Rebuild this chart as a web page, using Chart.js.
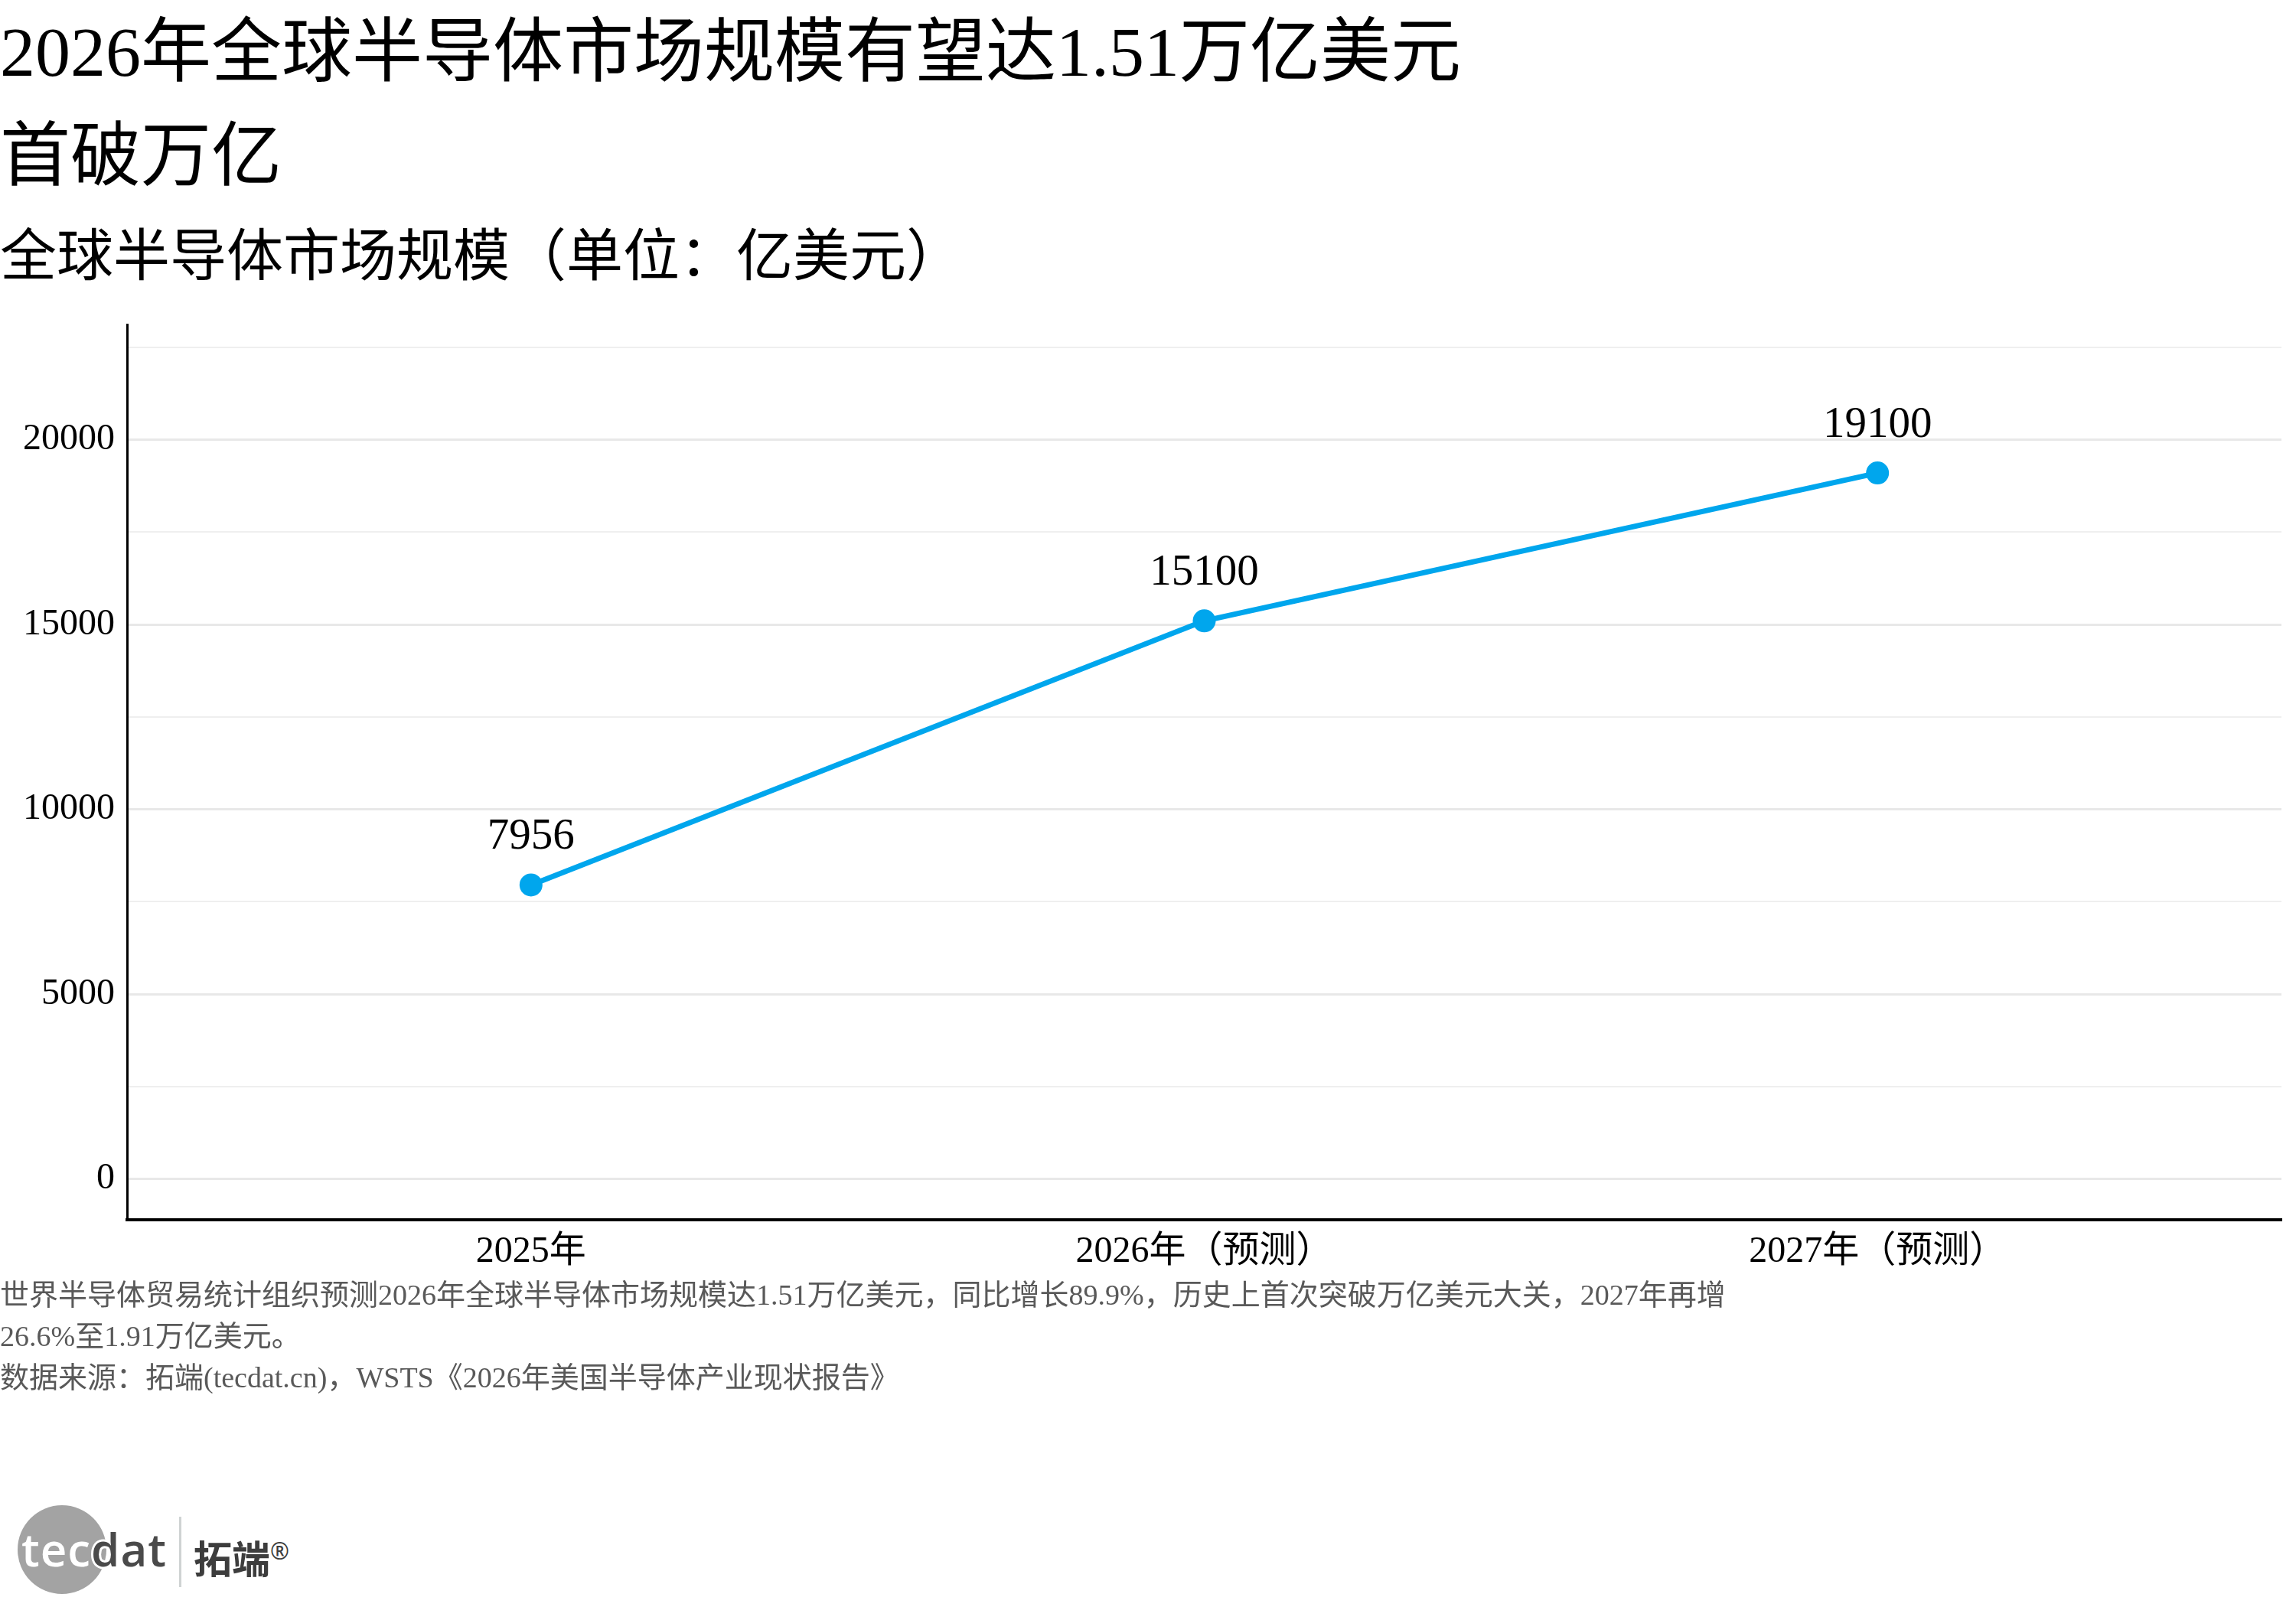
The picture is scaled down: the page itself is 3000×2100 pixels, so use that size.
<!DOCTYPE html>
<html lang="zh-CN">
<head>
<meta charset="utf-8">
<title>全球半导体市场规模</title>
<script src="https://cdn.jsdelivr.net/npm/chart.js@4.4.1/dist/chart.umd.min.js"></script>
<style>
  html, body {
    margin: 0;
    padding: 0;
    background: #fff;
  }
  body {
    position: relative;
    width: 3000px;
    height: 2100px;
    overflow: hidden;
    font-family: "Liberation Serif", "Noto Sans CJK SC", serif;
    color: #000;
  }
  #title {
    position: absolute;
    left: 0;
    top: 0;
    font-size: 92px;
    line-height: 136px;
    white-space: nowrap;
  }
  #subtitle {
    position: absolute;
    left: 0;
    top: 285px;
    font-size: 74px;
    line-height: 100px;
    white-space: nowrap;
  }
  #chart-box {
    position: absolute;
    left: 0;
    top: 380px;
    width: 3000px;
    height: 1320px;
  }
  #caption {
    position: absolute;
    left: 0;
    top: 1665px;
    font-size: 38px;
    line-height: 54px;
    color: #595959;
    white-space: nowrap;
  }
  #logo .circle {
    position: absolute;
    left: 23px;
    top: 1967px;
    width: 116px;
    height: 116px;
    border-radius: 50%;
    background: #a3a3a3;
  }
  #logo .word {
    position: absolute;
    left: 28px;
    top: 1984px;
    font-family: "Open Sans", sans-serif;
    font-weight: 600;
    font-size: 60px;
    line-height: 80px;
    letter-spacing: 1px;
    white-space: nowrap;
  }
  #logo .tec { color: #fff; }
  #logo .dat {
    color: #4a4a4a;
    text-shadow: 3px 0 0 #fff, -3px 0 0 #fff, 0 3px 0 #fff, 0 -3px 0 #fff,
                 2px 2px 0 #fff, -2px -2px 0 #fff, 2px -2px 0 #fff, -2px 2px 0 #fff;
  }
  #logo .sep {
    position: absolute;
    left: 234px;
    top: 1982px;
    width: 3px;
    height: 92px;
    background: #cfd3d3;
  }
  #logo .cn {
    position: absolute;
    left: 253px;
    top: 1992px;
    font-family: "Noto Sans CJK SC", sans-serif;
    font-weight: 700;
    font-size: 50px;
    line-height: 70px;
    color: #3d3d3d;
    white-space: nowrap;
  }
  #logo .cn sup {
    font-family: "Noto Sans", sans-serif;
    font-weight: 400;
    font-size: 30px;
    vertical-align: 18px;
  }
</style>
</head>
<body>
<div id="title">2026年全球半导体市场规模有望达1.51万亿美元<br>首破万亿</div>
<div id="subtitle">全球半导体市场规模（单位：亿美元）</div>

<div id="chart-box"><canvas id="marketChart"></canvas></div>

<div id="caption">世界半导体贸易统计组织预测2026年全球半导体市场规模达1.51万亿美元，同比增长89.9%，历史上首次突破万亿美元大关，2027年再增<br>26.6%至1.91万亿美元。<br>数据来源：拓端(tecdat.cn)，WSTS《2026年美国半导体产业现状报告》</div>

<div id="logo">
  <div class="circle"></div>
  <div class="word"><span class="tec">tec</span><span class="dat">dat</span></div>
  <div class="sep"></div>
  <div class="cn">拓端<sup>®</sup></div>
</div>

<script>
// 数据
const categories = ['2025年', '2026年（预测）', '2027年（预测）'];
const marketSize = [7956, 15100, 19100];
const yGridValues = [0, 2500, 5000, 7500, 10000, 12500, 15000, 17500, 20000, 22500];
const yLabelStep = 5000;

const FONT = '"Liberation Serif", "Noto Sans CJK SC", serif';
const LINE_COLOR = '#00A6ED';

// 点上方的数值标签
const pointLabels = {
    id: 'pointLabels',
    afterDatasetsDraw(chart) {
        const ctx = chart.ctx;
        const meta = chart.getDatasetMeta(0);
        ctx.save();
        ctx.font = '57px ' + FONT;
        ctx.fillStyle = '#000';
        ctx.textAlign = 'center';
        ctx.textBaseline = 'alphabetic';
        meta.data.forEach((pt, i) => {
            ctx.fillText(String(marketSize[i]), pt.x, pt.y - 47);
        });
        ctx.restore();
    }
};

function drawChart() {
    const ctx = document.getElementById('marketChart').getContext('2d');

    new Chart(ctx, {
        type: 'line',
        data: {
            datasets: [{
                data: marketSize.map((v, i) => ({ x: i, y: v })),
                borderColor: LINE_COLOR,
                backgroundColor: LINE_COLOR,
                borderWidth: 7,
                pointRadius: 15,
                pointHoverRadius: 15,
                pointBorderWidth: 0,
                tension: 0
            }]
        },
        options: {
            responsive: true,
            maintainAspectRatio: false,
            animation: false,
            layout: {
                padding: { top: 42, right: 19, left: 0, bottom: 0 }
            },
            plugins: {
                legend: { display: false },
                tooltip: { enabled: false }
            },
            scales: {
                x: {
                    type: 'linear',
                    min: -0.6,
                    max: 2.6,
                    afterBuildTicks: scale => {
                        scale.ticks = categories.map((c, i) => ({ value: i }));
                    },
                    afterFit: scale => { scale.height = 106; },
                    grid: { color: 'rgba(0,0,0,0)', drawTicks: false },
                    border: { display: true, color: '#000', width: 4 },
                    ticks: {
                        padding: 14,
                        color: '#000',
                        font: { family: FONT, size: 48 },
                        maxRotation: 0,
                        callback: value => categories[value]
                    }
                },
                y: {
                    min: -1100,
                    max: 23100,
                    afterBuildTicks: scale => {
                        scale.ticks = yGridValues.map(v => ({ value: v }));
                    },
                    afterFit: scale => { scale.width = 166; },
                    grid: {
                        drawTicks: false,
                        color: c => (c.tick && c.tick.value % yLabelStep === 0) ? '#e8e8e8' : '#efefef',
                        lineWidth: c => (c.tick && c.tick.value % yLabelStep === 0) ? 3 : 2
                    },
                    border: { display: true, color: '#000', width: 3 },
                    ticks: {
                        padding: 16,
                        color: '#000',
                        font: { family: FONT, size: 48 },
                        callback: value => (value % yLabelStep === 0 ? String(value) : '')
                    }
                }
            }
        },
        plugins: [pointLabels]
    });
}

document.addEventListener('DOMContentLoaded', () => {
    drawChart();
});
</script>
</body>
</html>
